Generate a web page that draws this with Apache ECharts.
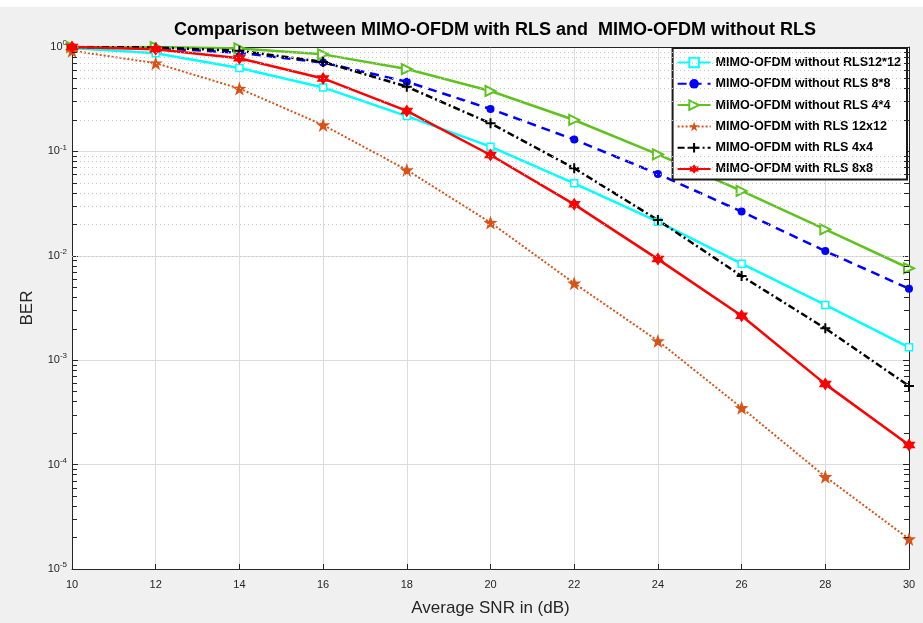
<!DOCTYPE html>
<html><head><meta charset="utf-8">
<script src="https://cdn.jsdelivr.net/npm/echarts@6/dist/echarts.min.js"></script>
<style>html,body{margin:0;padding:0;background:#f0f0f0}#c{width:923px;height:623px}</style>
</head><body><div id="c"></div>
<script>
const snr = [10,12,14,16,18,20,22,24,26,28,30];
const names = ['MIMO-OFDM without RLS12*12','MIMO-OFDM without RLS 8*8','MIMO-OFDM without RLS 4*4','MIMO-OFDM with RLS 12x12','MIMO-OFDM with RLS 4x4','MIMO-OFDM with RLS 8x8'];
const noRls12 = [0.98,0.87,0.63,0.41,0.218,0.111,0.0494,0.0212,0.0084,0.00338,0.00133];
const noRls8  = [1.0,0.98,0.88,0.71,0.465,0.255,0.13,0.0608,0.0265,0.0111,0.00484];
const noRls4  = [1.0,1.0,0.97,0.85,0.615,0.379,0.2,0.0938,0.0418,0.0179,0.0076];
const rls12   = [0.92,0.70,0.40,0.179,0.0664,0.0208,0.00546,0.00153,0.00035,0.0000766,0.0000194];
const rls4    = [1.0,0.99,0.92,0.72,0.417,0.186,0.0689,0.022,0.0064,0.00202,0.000566];
const rls8    = [1.0,0.95,0.78,0.5,0.244,0.0924,0.0311,0.0093,0.00267,0.00059,0.000154];

const minorVals = [];
for (let d=-5; d<0; d++) for (let m=2; m<=9; m++) minorVals.push(+(m*Math.pow(10,d)).toPrecision(3));

const pair = (arr) => snr.map((x,i)=>[x,arr[i]]);
const plusPath = 'path://M0,-5L0,5M-5,0L5,0';
const hexPath = 'path://M0,-10L2.9,-5L8.66,-5L5.8,0L8.66,5L2.9,5L0,10L-2.9,5L-8.66,5L-5.8,0L-8.66,-5L-2.9,-5Z';
const starPath = 'path://M0,-10L2.35,-3.24L9.51,-3.09L3.8,1.24L5.88,8.09L0,4L-5.88,8.09L-3.8,1.24L-9.51,-3.09L-2.35,-3.24Z';

const chart = echarts.init(document.getElementById('c'));
const series = [
 {name:names[0], type:'line', data:pair(noRls12), symbol:'rect', symbolSize:7,
  lineStyle:{color:'#00ffff',width:2.5}, itemStyle:{color:'#ffffff',borderColor:'#00ffff',borderWidth:1.5}},
 {name:names[1], type:'line', data:pair(noRls8), symbol:'circle', symbolSize:8,
  lineStyle:{color:'#0000ff',width:2.5,type:[9,6]}, itemStyle:{color:'#0000ff'}},
 {name:names[2], type:'line', data:pair(noRls4), symbol:'triangle', symbolRotate:-90, symbolSize:10,
  lineStyle:{color:'#5ec21f',width:2.5}, itemStyle:{color:'#ffffff',borderColor:'#5ec21f',borderWidth:2}},
 {name:names[3], type:'line', data:pair(rls12), symbol:starPath, symbolSize:14,
  lineStyle:{color:'#d95319',width:2,type:[2,2]}, itemStyle:{color:'#d95319'}},
 {name:names[4], type:'line', data:pair(rls4), symbol:plusPath, symbolSize:10,
  lineStyle:{color:'#000000',width:2.5,type:[7,3,2,3]}, itemStyle:{color:'#000000',borderColor:'#000000',borderWidth:2}},
 {name:names[5], type:'line', data:pair(rls8), symbol:hexPath, symbolSize:13,
  lineStyle:{color:'#ff0000',width:2.5}, itemStyle:{color:'#ff0000'}},
 {name:'_minor', type:'line', data:[], silent:true,
  markLine:{silent:true, symbol:'none', label:{show:false}, animation:false,
   lineStyle:{color:'#c8c8c8',width:1,type:[1,3]},
   data: minorVals.map(v=>({yAxis:v}))}},
 {name:'_minorTicks', type:'line', data:[], silent:true,
  markLine:{silent:true, symbol:'none', label:{show:false}, animation:false,
   lineStyle:{color:'#262626',width:1,type:'solid'},
   data: minorVals.flatMap(v=>[[{coord:[10,v]},{coord:[10.12,v]}],[{coord:[29.88,v]},{coord:[30,v]}]])}}
];
series.forEach(s=>{ s.animation=false; s.z = s.name.startsWith('_')?1:3; });

const FONT = 'Liberation Sans, Arial';
chart.setOption({
 backgroundColor:'#f0f0f0',
 animation:false,
 graphic:[{type:'rect', left:0, top:0, shape:{width:923,height:7}, style:{fill:'#ffffff'}, silent:true}],
 title:{text:'Comparison between MIMO-OFDM with RLS and  MIMO-OFDM without RLS', left:490, textAlign:'center', top:16,
   textStyle:{fontFamily:FONT, fontWeight:'bold', fontSize:18, color:'#000'}},
 legend:{data:names, orient:'vertical', right:16, top:48, backgroundColor:'#ffffff', borderColor:'#1a1a1a', borderWidth:2,
   padding:[8,6,4,4], itemWidth:33, itemHeight:12, itemGap:8.3,
   textStyle:{fontFamily:FONT, fontWeight:'bold', fontSize:12.6, color:'#000', padding:[0,0,0,0]}},
 grid:{left:72, right:14, top:47, bottom:54, show:true, backgroundColor:'#ffffff', borderWidth:0},
 xAxis:[{type:'value', min:10, max:30, interval:2, name:'Average SNR in (dB)', nameLocation:'middle', nameGap:31,
   nameTextStyle:{fontFamily:FONT, fontSize:17, color:'#262626'},
   axisLine:{show:true, onZero:false, lineStyle:{color:'#262626'}},
   axisTick:{show:true, inside:true, length:5, lineStyle:{color:'#262626'}},
   axisLabel:{fontFamily:FONT, fontSize:11, color:'#262626', margin:10},
   splitLine:{show:true, lineStyle:{color:'#dcdcdc', width:1}}},
  {type:'value', position:'top', min:10, max:30, interval:2,
   axisLine:{show:true, onZero:false, lineStyle:{color:'#262626'}}, axisTick:{show:false}, axisLabel:{show:false}, splitLine:{show:false}}],
 yAxis:[{type:'log', logBase:10, min:1e-5, max:1, name:'BER', nameLocation:'middle', nameGap:36,
   nameTextStyle:{fontFamily:FONT, fontSize:17, color:'#262626'},
   axisLine:{show:true, onZero:false, lineStyle:{color:'#262626'}},
   axisTick:{show:true, inside:true, length:6, lineStyle:{color:'#262626'}},
   axisLabel:{margin:5, formatter:(v)=>{const e=Math.round(Math.log10(v)); return '{b|10}{s|'+e+'}';},
     rich:{b:{fontFamily:FONT, fontSize:11, color:'#262626'}, s:{fontFamily:FONT, fontSize:8, color:'#262626', verticalAlign:'bottom', padding:[0,0,8,0]}}},
   splitLine:{show:true, lineStyle:{color:'#dcdcdc', width:1}}},
  {type:'log', logBase:10, min:1e-5, max:1, position:'right',
   axisLine:{show:true, onZero:false, lineStyle:{color:'#262626'}},
   axisTick:{show:true, inside:true, length:6, lineStyle:{color:'#262626'}}, axisLabel:{show:false}, splitLine:{show:false}}],
 series: series
});
</script></body></html>
